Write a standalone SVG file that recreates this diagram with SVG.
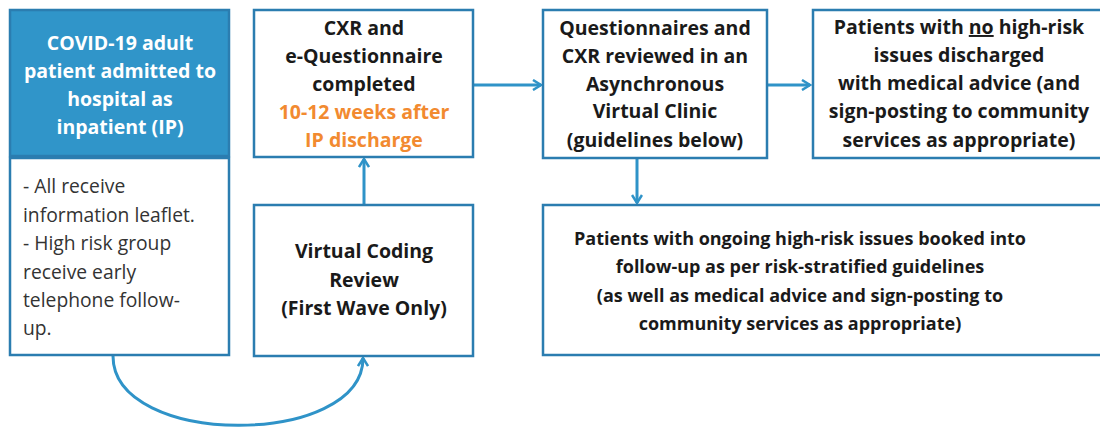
<svg xmlns="http://www.w3.org/2000/svg" width="1100" height="430" viewBox="0 0 1100 430">
<defs>
<style>
.box{fill:#ffffff;stroke:#2b7db0;stroke-width:2.5}
.hdr{fill:#3095c9;stroke:#2b7db0;stroke-width:2.5}
.t{font-family:"Open Sans","Liberation Sans",sans-serif;font-size:19.5px;font-weight:bold;fill:#1a1a1a;text-anchor:middle}
.s{font-size:18px}
.w{fill:#ffffff}
.o{fill:#f28a30}
.n{font-family:"Open Sans","Liberation Sans",sans-serif;font-size:19.3px;fill:#333333}
.c{fill:none;stroke:#2f93c8;stroke-width:3}
</style>
<marker id="ah" viewBox="0 0 12 12" refX="10" refY="6" markerWidth="12" markerHeight="12" markerUnits="userSpaceOnUse" orient="auto">
<path d="M2,1 L10,6 L2,11" fill="none" stroke="#2f93c8" stroke-width="2.5"/>
</marker>
</defs>
<rect width="1100" height="430" fill="#ffffff"/>
<g id="connectors">
<path class="c" d="M473,85 L541,85" marker-end="url(#ah)"/>
<path class="c" d="M767,85 L810,85" marker-end="url(#ah)"/>
<path class="c" d="M364,205 L364,159" marker-end="url(#ah)"/>
<path class="c" d="M637,158 L637,203" marker-end="url(#ah)"/>
<path class="c" d="M113,356 C113,448 363,448 363,358" marker-end="url(#ah)"/>
</g>
<g id="node-admitted">
<rect class="hdr" x="10" y="10" width="219" height="146"/>
<text class="t w" x="120" y="50">COVID-19 adult</text>
<text class="t w" x="120" y="78">patient admitted to</text>
<text class="t w" x="120" y="106">hospital as</text>
<text class="t w" x="120" y="134">inpatient (IP)</text>
</g>
<g id="node-leaflet">
<rect class="box" x="10" y="158" width="219" height="197"/>
<text class="n" x="23" y="193">- All receive</text>
<text class="n" x="23" y="222">information leaflet.</text>
<text class="n" x="23" y="250">- High risk group</text>
<text class="n" x="23" y="279">receive early</text>
<text class="n" x="23" y="307">telephone follow-</text>
<text class="n" x="23" y="335">up.</text>
</g>
<g id="node-cxr">
<rect class="box" x="254" y="10" width="219" height="147"/>
<text class="t" x="364" y="35">CXR and</text>
<text class="t" x="364" y="63">e-Questionnaire</text>
<text class="t" x="364" y="91">completed</text>
<text class="t o" x="364" y="119">10-12 weeks after</text>
<text class="t o" x="364" y="147">IP discharge</text>
</g>
<g id="node-coding">
<rect class="box" x="254" y="205" width="219" height="151"/>
<text class="t" x="364" y="258">Virtual Coding</text>
<text class="t" x="364" y="287">Review</text>
<text class="t" x="364" y="315">(First Wave Only)</text>
</g>
<g id="node-clinic">
<rect class="box" x="543" y="10" width="224" height="148"/>
<text class="t" x="655" y="35">Questionnaires and</text>
<text class="t" x="655" y="63">CXR reviewed in an</text>
<text class="t" x="655" y="91">Asynchronous</text>
<text class="t" x="655" y="118">Virtual Clinic</text>
<text class="t" x="655" y="147">(guidelines below)</text>
</g>
<g id="node-discharged">
<rect class="box" x="813" y="10" width="300" height="148"/>
<text class="t" x="959" y="34">Patients with <tspan text-decoration="underline">no</tspan> high-risk</text>
<text class="t" x="959" y="62">issues discharged</text>
<text class="t" x="959" y="90">with medical advice (and</text>
<text class="t" x="959" y="118">sign-posting to community</text>
<text class="t" x="959" y="147">services as appropriate)</text>
</g>
<g id="node-followup">
<rect class="box" x="543" y="205" width="570" height="150"/>
<text class="t s" x="800" y="245">Patients with ongoing high-risk issues booked into</text>
<text class="t s" x="800" y="273">follow-up as per risk-stratified guidelines</text>
<text class="t s" x="800" y="302">(as well as medical advice and sign-posting to</text>
<text class="t s" x="800" y="330">community services as appropriate)</text>
</g>
</svg>
